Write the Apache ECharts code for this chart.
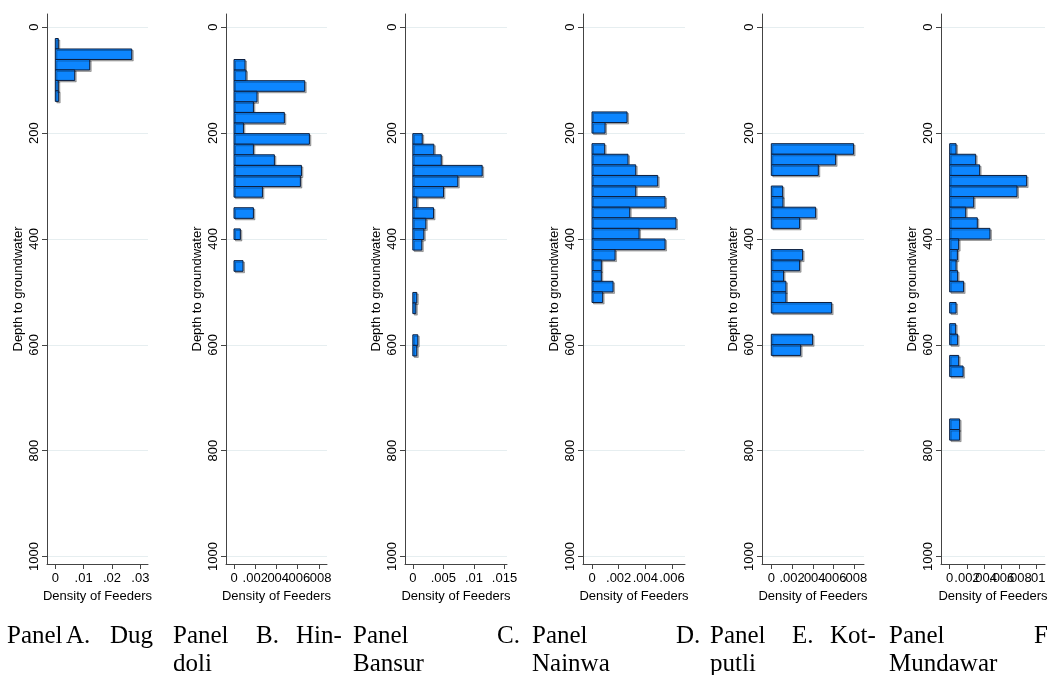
<!DOCTYPE html>
<html><head><meta charset="utf-8">
<script src="https://cdn.jsdelivr.net/npm/echarts@6/dist/echarts.min.js"></script>
<style>html,body{margin:0;padding:0;background:#fff}#c{width:1047px;height:675px}</style>
</head><body><div id="c"></div>
<script>
// ---- data ----
const yTicks = [0, 200, 400, 600, 800, 1000];
const yName = 'Depth to groundwater';
const xName = 'Density of Feeders';

// lower bin edges (depth) and densities per panel
const binWidthA = 19.8;
const lowA = [21.3, 41.1, 60.9, 80.7, 100.5, 120.3];
const denA = [0.00106, 0.02697, 0.01214, 0.00685, 0.00106, 0.0012];

const binWidthB = 20;
const lowB = [61, 81, 101, 121, 141, 161, 181, 201, 221, 241, 261, 281, 301, 341, 381, 441];
const denB = [0.00104, 0.00113, 0.00667, 0.00217, 0.00183, 0.00475, 0.00089, 0.00711, 0.00183, 0.00381, 0.00636, 0.00626, 0.00268, 0.00183, 0.0006, 0.00085];

const binWidthC = 20;
const lowC = [201, 221, 241, 261, 281, 301, 321, 341, 361, 381, 401, 501, 521, 581, 601];
const denC = [0.00154, 0.00344, 0.00465, 0.01135, 0.00736, 0.00502, 0.00065, 0.00339, 0.00213, 0.0018, 0.00147, 0.00065, 0.00049, 0.00082, 0.00065];

const binWidthD = 20;
const lowD = [160, 180, 220, 240, 260, 280, 300, 320, 340, 360, 380, 400, 420, 440, 460, 480, 500];
const denD = [0.00263, 0.00098, 0.00095, 0.0027, 0.00328, 0.00493, 0.00328, 0.00548, 0.00283, 0.0063, 0.00353, 0.00548, 0.00173, 0.0007, 0.0007, 0.00158, 0.0008];

const binWidthE = 20;
const lowE = [220, 240, 260, 300, 320, 340, 360, 420, 440, 460, 480, 500, 520, 580, 600];
const denE = [0.00791, 0.00618, 0.00452, 0.00109, 0.00112, 0.00426, 0.00272, 0.00301, 0.00272, 0.00118, 0.00141, 0.00141, 0.0058, 0.00397, 0.00282];

const binWidthF = 20;
const lowF = [220, 240, 260, 280, 300, 320, 340, 360, 380, 400, 420, 440, 460, 480, 520, 560, 580, 620, 640, 740, 760];
const denF = [0.00074, 0.003, 0.00346, 0.00888, 0.00777, 0.00277, 0.00185, 0.00319, 0.00465, 0.00104, 0.00089, 0.00074, 0.00092, 0.00161, 0.00074, 0.00069, 0.00092, 0.00104, 0.00155, 0.00115, 0.00115];

const xTicksA = [0, 0.01, 0.02, 0.03];
const xTicksB = [0, 0.002, 0.004, 0.006, 0.008];
const xTicksC = [0, 0.005, 0.01, 0.015];
const xTicksD = [0, 0.002, 0.004, 0.006];
const xTicksE = [0, 0.002, 0.004, 0.006, 0.008];
const xTicksF = [0, 0.002, 0.004, 0.006, 0.008, 0.01];

const captionA = ['Panel', 'A.', 'Dug'];
const captionB = ['Panel', 'B.', 'Hin-', 'doli'];
const captionC = ['Panel', 'C.', 'Bansur'];
const captionD = ['Panel', 'D.', 'Nainwa'];
const captionE = ['Panel', 'E.', 'Kot-', 'putli'];
const captionF = ['Panel', 'F.', 'Mundawar'];

// ---- layout / style ----
const panels = [
  {low: lowA, den: denA, bw: binWidthA, ticks: xTicksA, left: 47,  width: 101, xmin: -0.00293, xmax: 0.0327},
  {low: lowB, den: denB, bw: binWidthB, ticks: xTicksB, left: 226, width: 101, xmin: -0.000755, xmax: 0.00877},
  {low: lowC, den: denC, bw: binWidthC, ticks: xTicksC, left: 405, width: 102, xmin: -0.00128, xmax: 0.01541},
  {low: lowD, den: denD, bw: binWidthD, ticks: xTicksD, left: 583, width: 102, xmin: -0.000675, xmax: 0.006975},
  {low: lowE, den: denE, bw: binWidthE, ticks: xTicksE, left: 762, width: 102, xmin: -0.000894, xmax: 0.00891},
  {low: lowF, den: denF, bw: binWidthF, ticks: xTicksF, left: 941, width: 104, xmin: -0.001, xmax: 0.011}
];
const captions = [captionA, captionB, captionC, captionD, captionE, captionF];
// [x, line] per word
const captionPos = [
  [[7,0],[66,0],[110,0]],
  [[173,0],[256,0],[296,0],[173,1]],
  [[353,0],[497,0],[353,1]],
  [[532,0],[676,0],[532,1]],
  [[710,0],[792,0],[830,0],[710,1]],
  [[889,0],[1034,0],[889,1]]
];

const TOP = 14, BOTTOM = 111;
const axisColor = '#444';
const txt = {fontFamily: '"Liberation Sans", Arial, sans-serif', fontSize: 13, color: '#000'};
const fmtX = v => (v === 0 ? '0' : String(+v.toFixed(6)).replace(/^0\./, '.'));

function renderItem(params, api) {
  const lo = api.value(0), hi = api.value(1), d = api.value(2);
  const p0 = api.coord([0, lo]);
  const p1 = api.coord([d, hi]);
  return {
    type: 'rect',
    shape: {x: p0[0], y: p0[1], width: p1[0] - p0[0], height: p1[1] - p0[1]},
    style: {fill: '#0d86ff', stroke: '#0c1e3e', lineWidth: 1,
            shadowColor: 'rgba(0,0,0,0.28)', shadowOffsetX: 1.5, shadowOffsetY: 1.5, shadowBlur: 0}
  };
}

const grid = [], xAxis = [], yAxis = [], series = [];
panels.forEach((p, i) => {
  grid.push({left: p.left, width: p.width, top: TOP, bottom: BOTTOM, containLabel: false, outerBoundsMode: 'none'});
  // labels split over two axes so that overlapping labels are all drawn (as in the reference)
  const evenLab = p.ticks.filter((t, k) => k % 2 === 0);
  const oddLab = p.ticks.filter((t, k) => k % 2 === 1);
  xAxis.push({
    gridIndex: i, type: 'value', min: p.xmin, max: p.xmax, position: 'bottom',
    axisLine: {show: true, onZero: false, lineStyle: {color: axisColor, width: 1}},
    axisTick: {show: true, length: 5, customValues: p.ticks, lineStyle: {color: axisColor}},
    axisLabel: Object.assign({customValues: evenLab, margin: 8, hideOverlap: false,
      showMinLabel: true, showMaxLabel: true, formatter: fmtX}, txt),
    splitLine: {show: false},
    name: xName, nameLocation: 'middle', nameGap: 22, nameTextStyle: txt
  });
  yAxis.push({
    gridIndex: i, type: 'value', inverse: true, min: -25, max: 1014,
    axisLine: {show: true, onZero: false, lineStyle: {color: axisColor, width: 1}},
    axisTick: {show: true, length: 5, customValues: yTicks, lineStyle: {color: axisColor}},
    axisLabel: Object.assign({customValues: yTicks, rotate: 90, margin: 6, hideOverlap: false,
      showMinLabel: true, showMaxLabel: true, formatter: v => String(Math.round(v))}, txt),
    splitLine: {show: true, lineStyle: {color: '#e6eef0', width: 1}},
    name: yName, nameLocation: 'middle', nameGap: 22, nameRotate: 90, nameTextStyle: txt
  });
  series.push({
    type: 'custom', xAxisIndex: i, yAxisIndex: i,
    renderItem: renderItem,
    encode: {x: 2, y: [0, 1]},
    data: p.low.map((lo, k) => [lo, lo + p.bw, p.den[k]]),
    animation: false
  });
});
// second (label-only) x axis per grid
panels.forEach((p, i) => {
  const oddLab = p.ticks.filter((t, k) => k % 2 === 1);
  xAxis.push({
    gridIndex: i, type: 'value', min: p.xmin, max: p.xmax, position: 'bottom', offset: 0,
    axisLine: {show: false}, axisTick: {show: false}, splitLine: {show: false},
    axisLabel: Object.assign({customValues: oddLab, margin: 8, hideOverlap: false,
      showMinLabel: true, showMaxLabel: true, formatter: fmtX}, txt)
  });
});

const graphic = [];
captions.forEach((words, i) => {
  words.forEach((w, k) => {
    const pos = captionPos[i][k];
    graphic.push({type: 'text', x: pos[0], y: pos[1] ? 664 : 636,
      style: {text: w, fontFamily: '"Liberation Serif", "Times New Roman", serif', fontSize: 25,
              fill: '#000', align: 'left', verticalAlign: 'middle'}});
  });
});

const chart = echarts.init(document.getElementById('c'), null, {renderer: 'canvas'});
chart.setOption({backgroundColor: '#fff', animation: false, grid, xAxis, yAxis, series, graphic});
</script></body></html>
